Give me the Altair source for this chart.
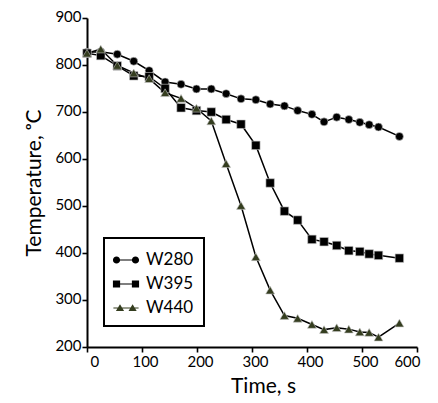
import altair as alt
import pandas as pd

# ---- data ----
times = [0, 25, 55, 85, 113, 142, 171, 199, 226, 253, 280, 307, 333, 359,
         383, 409, 431, 454, 476, 496, 513, 530, 568]
w280 = [827, 828, 823, 808, 788, 764, 759, 749, 749, 739, 728, 726, 717, 713,
        703, 695, 679, 689, 684, 678, 673, 668, 648]
w395 = [825, 820, 798, 777, 775, 750, 709, 703, 700, 684, 674, 629, 549, 489,
        470, 429, 424, 416, 405, 403, 398, 395, 389]
w440 = [825, 834, 799, 783, 771, 741, 729, 708, 681, 590, 501, 392, 321, 267,
        261, 248, 237, 241, 238, 232, 231, 221, 251]
series = ["W280", "W395", "W440"]
fills = ["#000000", "#000000", "#343d1f"]
x_ticks = list(range(0, 601, 50))
y_ticks = list(range(200, 901, 50))

rows = []
for name, vals in zip(series, [w280, w395, w440]):
    for t, v in zip(times, vals):
        rows.append({"time": t, "temp": v, "series": name})
df = pd.DataFrame(rows)

# legend symbols: marker - line - marker (all sub-paths drawn clockwise)
def circ(cx, r):
    return (f"M {cx - r},0 a {r},{r} 0 1,1 {2 * r},0 "
            f"a {r},{r} 0 1,1 {-2 * r},0 Z")

def sq(cx, h):
    return (f"M {cx - h},{-h} L {cx + h},{-h} L {cx + h},{h} "
            f"L {cx - h},{h} Z")

def tri(cx, h):
    return (f"M {cx},{-0.32} L {cx + h},{0.25} L {cx - h},{0.25} Z")

def bar(a, b, t):
    return f"M {a},{-t} L {b},{-t} L {b},{t} L {a},{t} Z"

leg_paths = [
    circ(-0.79, 0.3) + " " + bar(-0.6, 0.6, 0.05) + " " + circ(0.79, 0.3),
    sq(-0.79, 0.3) + " " + bar(-0.6, 0.6, 0.05) + " " + sq(0.79, 0.3),
    bar(-1.05, 1.05, 0.035) + " " + tri(-0.5, 0.34) + " " + tri(0.55, 0.34),
]

FONT = "Lato"

x_enc = alt.X(
    "time:Q",
    scale=alt.Scale(domain=[0, 600], nice=False, zero=False),
    axis=alt.Axis(
        title="Time, s", values=x_ticks,
        labelExpr="datum.value % 100 === 0 ? datum.label : ''",
        tickSize={"condition": {"test": "datum.value % 100 === 0", "value": 5}, "value": 3.5},
        labelOffset=3, labelPadding=2, titlePadding=6, titleX=176,
    ),
)
y_enc = alt.Y(
    "temp:Q",
    scale=alt.Scale(domain=[200, 900], nice=False, zero=False),
    axis=alt.Axis(
        title="Temperature, ᵒC", values=y_ticks,
        labelExpr="datum.value % 100 === 0 ? datum.label : ''",
        tickSize={"condition": {"test": "datum.value % 100 === 0", "value": 5}, "value": 3.5},
        labelOffset=-2, labelPadding=1, titlePadding=10,
    ),
)

base = alt.Chart(df)

lines = base.mark_line(color="black", strokeWidth=1.5).encode(
    x=x_enc, y=y_enc, detail="series:N", order="time:Q"
)

points = base.mark_point(filled=True, opacity=1, stroke="#c8c8c8", strokeWidth=0.6).encode(
    x=x_enc, y=y_enc,
    shape=alt.Shape("series:N", scale=alt.Scale(domain=series, range=["circle", "square", "triangle-up"]), legend=None),
    color=alt.Color("series:N", scale=alt.Scale(domain=series, range=fills), legend=None),
    size=alt.Size("series:N", scale=alt.Scale(domain=series, range=[64, 80, 88]), legend=None),
)

leg = alt.Legend(title=None, orient="none", legendX=17, legendY=220,
                 padding=10, strokeColor="black", symbolSize=576,
                 symbolStrokeWidth=0, symbolOpacity=1, labelOffset=8,
                 rowPadding=4, labelFontSize=17, labelFont=FONT,
                 labelColor="black")

legend_layer = base.mark_point(filled=True, opacity=0).encode(
    x="time:Q", y="temp:Q",
    shape=alt.Shape("series:N", scale=alt.Scale(domain=series, range=leg_paths), legend=leg),
    color=alt.Color("series:N", scale=alt.Scale(domain=series, range=fills), legend=leg),
)

chart = alt.layer(lines, points, legend_layer).resolve_scale(
    color="independent", shape="independent"
).properties(
    width=330, height=329,
    autosize=alt.AutoSizeParams(type="none"),
    padding={"left": 79, "top": 10, "right": 13, "bottom": 50},
).configure_view(stroke=None).configure_axis(
    domainColor="black", domainWidth=2, tickColor="black", tickWidth=1.6,
    labelFont=FONT, labelFontSize=15, labelColor="black",
    titleFont=FONT, titleFontSize=21, titleColor="black", titleFontWeight="normal",
    grid=False,
).configure_legend(strokeWidth=2)

chart.save("out.html", embed_options={"renderer": "svg", "actions": False})
